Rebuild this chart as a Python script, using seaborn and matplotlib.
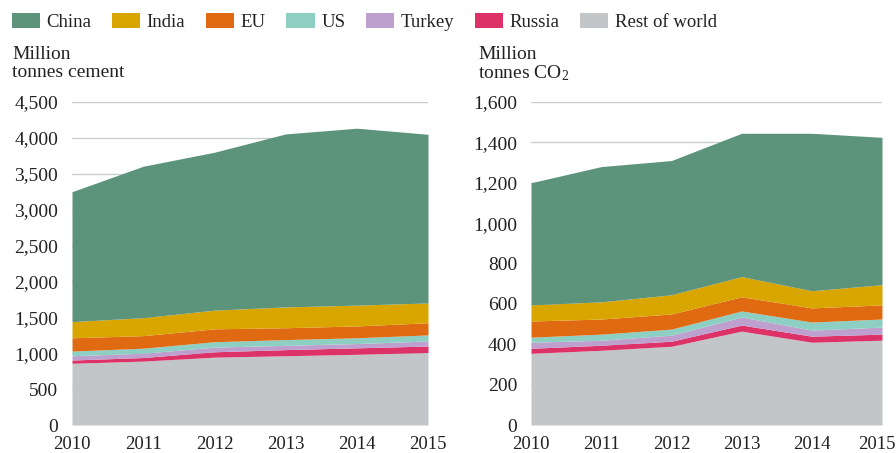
import matplotlib
matplotlib.use("Agg")
import matplotlib.pyplot as plt
import matplotlib.transforms as mtransforms
import seaborn as sns
from matplotlib.patches import Patch

# Values (million tonnes)
years = [2010, 2011, 2012, 2013, 2014, 2015]
regions = ["China", "India", "EU", "US", "Turkey", "Russia", "Rest of world"]

cement_china = [1810, 2110, 2200, 2410, 2465, 2350]
cement_india = [225, 250, 260, 290, 290, 275]
cement_eu = [185, 175, 180, 165, 165, 170]
cement_us = [65, 70, 75, 80, 80, 85]
cement_turkey = [60, 60, 65, 60, 60, 70]
cement_russia = [45, 50, 75, 85, 90, 90]
cement_rest = [860, 890, 945, 965, 985, 1010]

co2_china = [605, 670, 665, 710, 780, 730]
co2_india = [80, 85, 95, 100, 85, 100]
co2_eu = [80, 75, 75, 70, 70, 70]
co2_us = [25, 30, 30, 30, 40, 40]
co2_turkey = [30, 25, 30, 40, 30, 35]
co2_russia = [25, 25, 25, 30, 30, 30]
co2_rest = [355, 370, 390, 465, 410, 420]

cement_ticks = [0, 500, 1000, 1500, 2000, 2500, 3000, 3500, 4000, 4500]
co2_ticks = [0, 200, 400, 600, 800, 1000, 1200, 1400, 1600]

colors = sns.color_palette(["#5c937b", "#d9a600", "#e06a12", "#8ecfc4",
                            "#bea0cf", "#dd3268", "#c2c6c8"])

sns.set_theme(style="white")
plt.rcParams["font.family"] = ["Liberation Serif", "DejaVu Serif"]
plt.rcParams["mathtext.fontset"] = "custom"
plt.rcParams["mathtext.rm"] = "Liberation Serif"
plt.rcParams["mathtext.it"] = "Liberation Serif:italic"
text_col = "#222222"
grid_col = "#c9cfcf"

fig = plt.figure(figsize=(8.96, 4.53), dpi=100)
ax1 = fig.add_axes([72 / 896, 1 - 425 / 453, 356 / 896, 323 / 453])
ax2 = fig.add_axes([531 / 896, 1 - 425 / 453, 351 / 896, 323 / 453])


def draw(ax, layers, ticks, fmt):
    # stack from the bottom up: rest of world first, China on top
    ax.stackplot(years, *layers[::-1], colors=list(colors)[::-1], linewidth=0, zorder=2)
    ax.set_xlim(years[0], years[-1])
    ax.set_ylim(ticks[0], ticks[-1])
    ax.set_yticks(ticks)
    ax.set_yticklabels([fmt(t) for t in ticks])
    ax.set_xticks(years)
    ax.set_xticklabels([str(y) for y in years])
    ax.yaxis.grid(True, color=grid_col, linewidth=1, zorder=0)
    ax.xaxis.grid(False)
    for s in ax.spines.values():
        s.set_visible(False)
    ax.tick_params(axis="both", length=0, colors=text_col)
    ax.tick_params(axis="y", pad=10, labelsize=14)
    ax.tick_params(axis="x", pad=8, labelsize=13.5)
    ax.set_axisbelow(True)


draw(ax1, [cement_china, cement_india, cement_eu, cement_us, cement_turkey,
           cement_russia, cement_rest], cement_ticks, lambda t: f"{t:,}")
draw(ax2, [co2_china, co2_india, co2_eu, co2_us, co2_turkey,
           co2_russia, co2_rest], co2_ticks, lambda t: f"{t:,}")

# keep the last year label of the right panel inside the figure edge
last = ax2.get_xticklabels()[-1]
last.set_transform(last.get_transform() +
                   mtransforms.ScaledTranslation(-5 / 100, 0, fig.dpi_scale_trans))

fig.text(12 / 896, 1 - 46 / 453, "Million\ntonnes cement", fontsize=14,
         color=text_col, va="top", linespacing=1.05)
fig.text(478 / 896, 1 - 46 / 453, "Million\ntonnes CO$_2$", fontsize=14,
         color=text_col, va="top", linespacing=1.05)

handles = [Patch(facecolor=c, edgecolor="none") for c in colors]
fig.legend(handles, regions, loc="center left", bbox_to_anchor=(8 / 896, 1 - 22 / 453),
           ncol=7, frameon=False, fontsize=13.5, handlelength=1.5, handleheight=0.9,
           handletextpad=0.35, columnspacing=1.1, borderaxespad=0, borderpad=0.2,
           labelcolor=text_col)

fig.savefig("out.png", dpi=100)
